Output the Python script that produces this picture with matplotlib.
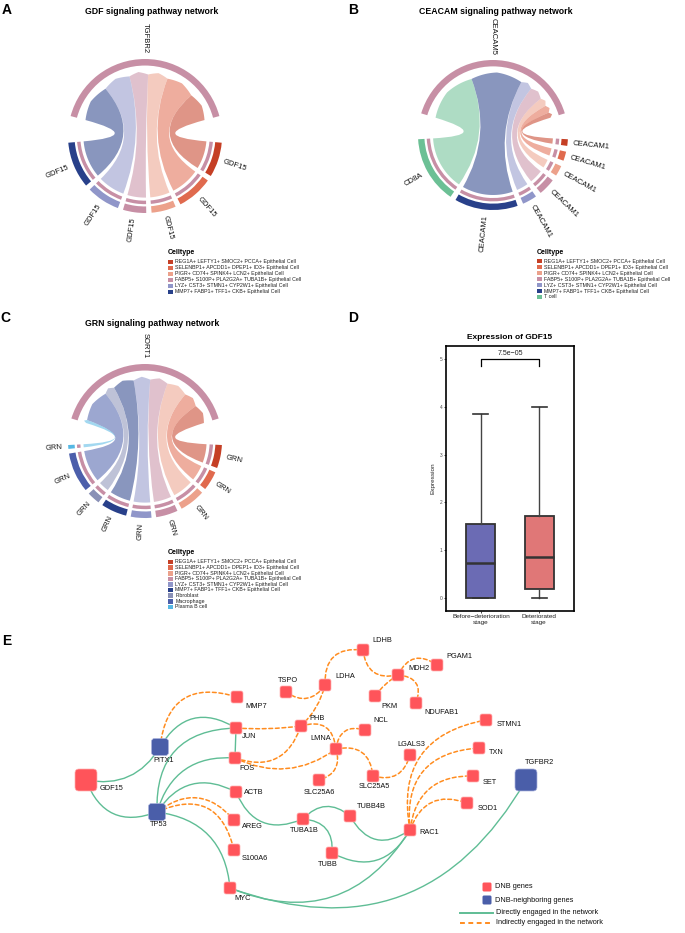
import numpy as np
import matplotlib
matplotlib.use("Agg")
import matplotlib.pyplot as plt
from matplotlib.patches import Wedge, PathPatch, FancyBboxPatch, FancyArrowPatch, Rectangle
from matplotlib.path import Path
from matplotlib.lines import Line2D

plt.rcParams['font.family'] = ['Liberation Sans', 'DejaVu Sans']

W, H = 685, 933

# ---------------- data ----------------
EPI = ['REG1A+ LEFTY1+ SMOC2+ PCCA+ Epithelial Cell',
       'SELENBP1+ APCDD1+ DPEP1+ ID3+ Epithelial Cell',
       'PIGR+ CD74+ SPINK4+ LCN2+ Epithelial Cell',
       'FABP5+ S100P+ PLA2G2A+ TUBA1B+ Epithelial Cell',
       'LYZ+ CST3+ STMN1+ CYP2W1+ Epithelial Cell',
       'MMP7+ FABP1+ TFF1+ CKB+ Epithelial Cell']
RECEIVER = EPI[3]

# A: GDF15 -> TGFBR2
gdf_senders = EPI
gdf_labels = ['GDF15'] * 6
gdf_strength = [27, 28, 19, 18, 26, 36]

# B: CEACAM1 / CD8A -> CEACAM5
cea_senders = EPI + ['T cell']
cea_labels = ['CEACAM1'] * 6 + ['CD8A']
cea_strength = [5, 7, 8, 13, 11, 48, 51]

# C: GRN -> SORT1
grn_senders = EPI + ['Fibroblast', 'Macrophage', 'Plasma B cell']
grn_labels = ['GRN'] * 9
grn_strength = [18, 15, 20, 17, 16, 20, 10, 31, 3]

# D: box statistics
box_groups = ['Before\u2212deterioration\nstage', 'Deteriorated\nstage']
box_whislo = [0.0, 0.0]
box_q1 = [0.0, 0.20]
box_med = [0.74, 0.865]
box_q3 = [1.55, 1.72]
box_whishi = [3.85, 4.0]
p_text = '7.5e\u221205'
p_y = 5.0

# E: network (layout coordinates)
node_names = ['GDF15', 'PITX1', 'TP53', 'MMP7', 'JUN', 'FOS', 'ACTB', 'AREG', 'S100A6', 'MYC',
              'TSPO', 'LDHA', 'PHB', 'LMNA', 'SLC25A6', 'TUBA1B', 'TUBB', 'LDHB', 'PGAM1', 'MDH2',
              'PKM', 'NDUFAB1', 'NCL', 'LGALS3', 'SLC25A5', 'STMN1', 'TXN', 'SET', 'SOD1',
              'TUBB4B', 'RAC1', 'TGFBR2']
node_x = [86, 160, 157, 237, 236, 235, 236, 234, 234, 230,
          286, 325, 301, 336, 319, 303, 332, 363, 437, 398,
          375, 416, 365, 410, 373, 486, 479, 473, 467,
          350, 410, 526]
node_y = [780, 747, 812, 697, 728, 758, 792, 820, 850, 888,
          692, 685, 726, 749, 780, 819, 853, 650, 665, 675,
          696, 703, 730, 755, 776, 720, 748, 776, 803,
          816, 830, 780]
neighbor_genes = ['PITX1', 'TP53', 'TGFBR2']

direct_edges = [('GDF15', 'PITX1'), ('GDF15', 'TP53'), ('PITX1', 'JUN'), ('TP53', 'JUN'),
                ('TP53', 'FOS'), ('JUN', 'FOS'), ('TP53', 'ACTB'), ('TP53', 'MYC'),
                ('ACTB', 'TUBA1B'), ('TUBA1B', 'TUBB4B'), ('TUBA1B', 'TUBB'), ('TUBB4B', 'RAC1'),
                ('TUBB', 'RAC1'), ('RAC1', 'MYC'), ('TGFBR2', 'MYC')]
indirect_edges = [('PITX1', 'MMP7'), ('TP53', 'AREG'), ('TP53', 'S100A6'), ('JUN', 'PHB'),
                  ('PHB', 'LDHA'), ('TSPO', 'LDHA'), ('LDHA', 'LDHB'), ('LDHB', 'MDH2'),
                  ('MDH2', 'PGAM1'), ('MDH2', 'PKM'), ('MDH2', 'NDUFAB1'), ('PHB', 'LMNA'),
                  ('FOS', 'PHB'), ('FOS', 'LMNA'), ('LMNA', 'NCL'), ('LMNA', 'SLC25A6'),
                  ('LMNA', 'SLC25A5'), ('SLC25A5', 'LGALS3'), ('RAC1', 'STMN1'), ('RAC1', 'TXN'),
                  ('RAC1', 'SET'), ('RAC1', 'SOD1')]

# ---------------- styles ----------------
cell_colors = {
    EPI[0]: '#c53f25', EPI[1]: '#e06a4e', EPI[2]: '#eca18b', EPI[3]: '#c78fa5',
    EPI[4]: '#9096c9', EPI[5]: '#28408a', 'T cell': '#6cc095', 'Fibroblast': '#8990b6',
    'Macrophage': '#4c5fab', 'Plasma B cell': '#56b8e4'}

direct_rad = [0.35, 0.5, -0.5, -0.5, -0.4, 0.0, -0.45, -0.4, 0.5, -0.47, -0.5, 0.55, 0.48, -0.42, -0.42]
indirect_rad = [-0.6, -0.47, -0.6, 0.05, 0.15, 0.5, -0.58, 0.55, -0.58, 0.1, -0.65, -0.6,
                0.5, 0.3, -0.58, -0.5, -0.55, 0.5, -0.5, -0.52, -0.45, -0.5]
node_size = {'GDF15': 22, 'TGFBR2': 22, 'PITX1': 17, 'TP53': 17}
label_pos = {'GDF15': (14, 8, 'left'), 'PITX1': (4, 14, 'center'), 'TP53': (2, 13, 'center'),
             'MMP7': (8, 10, 'left'), 'JUN': (6, 8, 'left'), 'FOS': (4, 10, 'left'),
             'ACTB': (8, 1, 'left'), 'AREG': (8, 7, 'left'), 'S100A6': (8, 9, 'left'),
             'MYC': (4, 11, 'left'), 'TSPO': (2, -12, 'center'), 'LDHA': (10, -8, 'left'),
             'PHB': (8, -8, 'left'), 'LMNA': (-5, -10, 'right'), 'SLC25A6': (0, 12, 'center'),
             'TUBA1B': (1, 11, 'center'), 'TUBB': (-4, 12, 'center'), 'LDHB': (9, -10, 'left'),
             'PGAM1': (9, -9, 'left'), 'MDH2': (10, -6, 'left'), 'PKM': (6, 10, 'left'),
             'NDUFAB1': (8, 10, 'left'), 'NCL': (8, -9, 'left'), 'LGALS3': (1, -11, 'center'),
             'SLC25A5': (1, 11, 'center'), 'STMN1': (11, 4, 'left'), 'TXN': (10, 4, 'left'),
             'SET': (10, 6, 'left'), 'SOD1': (11, 6, 'left'), 'TUBB4B': (7, -9, 'left'),
             'RAC1': (9, 3, 'left'), 'TGFBR2': (13, -18, 'center')}
RED, BLUE = '#ff545a', '#4a5ea9'
GREEN, ORANGE = '#5fbd95', '#ff8c1f'

fig = plt.figure(figsize=(W / 100, H / 100), dpi=100)
ov = fig.add_axes([0, 0, 1, 1])
ov.set_xlim(0, W)
ov.set_ylim(H, 0)
ov.axis('off')


def pt(r, a):
    t = np.radians(a)
    return [r * np.cos(t), r * np.sin(t)]


def ribbon(ax, a1, a2, b1, b2, color, rs=0.80, rt=0.835, h=0.035):
    verts, codes = [], []
    for k, a in enumerate(np.linspace(a1, a2, 40)):
        verts.append(pt(rs, a))
        codes.append(Path.MOVETO if k == 0 else Path.LINETO)
    verts += [[0, 0], pt(rt - h, b1)]
    codes += [Path.CURVE3, Path.CURVE3]
    bb = np.linspace(b1, b2, 41)
    rr = rt - h * np.abs(np.linspace(-1, 1, 41))
    for a, r in zip(bb[1:], rr[1:]):
        verts.append(pt(r, a))
        codes.append(Path.LINETO)
    verts += [[0, 0], pt(rs, a1), pt(rs, a1)]
    codes += [Path.CURVE3, Path.CURVE3, Path.CLOSEPOLY]
    ax.add_patch(PathPatch(Path(verts, codes), fc=color, ec='none', alpha=0.55, zorder=1))


def sector_label(ax, ang, text):
    x, y = pt(1.07, ang)
    if np.cos(np.radians(ang)) > 1e-6:
        rot, ha = ang, 'left'
    else:
        rot, ha = ang + 180, 'right'
    ax.text(x, y, text, rotation=rot, rotation_mode='anchor', ha=ha, va='center',
            fontsize=5.5, color='#111')


def chord(cx, cy, rad, senders, labels, strength, target, target_label, small_gap, big_gap=20):
    L = 1.6
    S = 2 * L * rad
    ax = fig.add_axes([(cx - S / 2) / W, 1 - (cy + S / 2) / H, S / W, S / H])
    ax.set_xlim(-L, L)
    ax.set_ylim(-L, L)
    ax.axis('off')
    v = np.asarray(strength, float)
    n = len(v)
    scale = (360 - 2 * big_gap - (n - 1) * small_gap) / 2 / v.sum()
    w = v * scale
    half = v.sum() * scale
    t_lo, t_hi = 90 - half / 2, 90 + half / 2
    ax.add_patch(Wedge((0, 0), 1.0, t_lo, t_hi, width=0.085, fc=cell_colors[target], ec='none'))
    sector_label(ax, 90, target_label)
    start = t_lo - big_gap
    tpos = t_lo
    for i in range(n):
        a2, a1 = start, start - w[i]
        col = cell_colors[senders[i]]
        ax.add_patch(Wedge((0, 0), 1.0, a1, a2, width=0.085, fc=col, ec='none'))
        ax.add_patch(Wedge((0, 0), 0.885, a1, a2, width=0.045, fc=cell_colors[target], ec='none'))
        ribbon(ax, a1, a2, tpos, tpos + w[i], col)
        tpos += w[i]
        sector_label(ax, (a1 + a2) / 2, labels[i])
        start = a1 - small_gap


def cell_legend(x, y, cells, dy=6.0):
    ov.text(x, y, 'Celltype', fontsize=5, fontweight='bold', ha='left', va='center')
    for i, c in enumerate(cells):
        yy = y + 9 + i * dy
        ov.add_patch(Rectangle((x, yy - 2.3), 4.6, 4.6, fc=cell_colors[c], ec='none'))
        ov.text(x + 7.5, yy, c, fontsize=3.8, va='center', ha='left', color='#222')


# panel labels and titles
for lab, x, y in [('A', 2, 10), ('B', 348, 10), ('C', 0, 318), ('D', 348, 318), ('E', 2, 641)]:
    ov.text(x, y, lab, fontsize=10, fontweight='bold', ha='left', va='center')
ov.text(152, 11, 'GDF signaling pathway network', fontsize=6.3, fontweight='bold', ha='center', va='center')
ov.text(496, 11, 'CEACAM signaling pathway network', fontsize=6.3, fontweight='bold', ha='center', va='center')
ov.text(152, 323, 'GRN signaling pathway network', fontsize=6.3, fontweight='bold', ha='center', va='center')

chord(145, 136, 77, gdf_senders, gdf_labels, gdf_strength, RECEIVER, 'TGFBR2', 4)
chord(493, 135, 75, cea_senders, cea_labels, cea_strength, RECEIVER, 'CEACAM5', 4.5)
chord(145, 441, 77, grn_senders, grn_labels, grn_strength, RECEIVER, 'SORT1', 3.5)

cell_legend(168, 253, gdf_senders)
cell_legend(537, 252, cea_senders)
cell_legend(168, 553, grn_senders, dy=5.6)

# ---------------- D: box plot ----------------
axd = fig.add_axes([446 / W, 1 - 611 / H, 128 / W, 265 / H])
stats = [dict(whislo=box_whislo[i], q1=box_q1[i], med=box_med[i], q3=box_q3[i],
              whishi=box_whishi[i], label=box_groups[i]) for i in range(2)]
bp = axd.bxp(stats, positions=[1, 2], widths=0.5, patch_artist=True, showfliers=False,
             boxprops=dict(lw=1.3, edgecolor='#333333'),
             medianprops=dict(color='#333333', lw=1.8),
             whiskerprops=dict(color='#444444', lw=1.0),
             capprops=dict(color='#333333', lw=1.2), capwidths=0.26)
for patch, c in zip(bp['boxes'], ['#6b6bb4', '#e07777']):
    patch.set_facecolor(c)
axd.plot([1, 1, 2, 2], [p_y - 0.15, p_y, p_y, p_y - 0.15], color='black', lw=0.9)
axd.text(1.5, p_y + 0.04, p_text, ha='center', va='bottom', fontsize=5, color='#222')
axd.set_xlim(0.4, 2.6)
axd.set_ylim(-0.27, 5.27)
axd.set_yticks([0, 1, 2, 3, 4, 5])
axd.tick_params(axis='y', labelsize=3.5, labelcolor='#4d4d4d', length=1.5, width=0.5, pad=1)
axd.tick_params(axis='x', labelsize=4.6, labelcolor='#222', length=1.5, width=0.5, pad=1)
axd.set_ylabel('Expression', fontsize=4.6, color='#222', labelpad=3)
axd.set_title('Expression of GDF15', fontsize=6, fontweight='bold', pad=5)
for s in axd.spines.values():
    s.set_linewidth(1.2)
    s.set_color('black')

# ---------------- E: network ----------------
pos = {nm: (x, y) for nm, x, y in zip(node_names, node_x, node_y)}
for (a, b), r in zip(direct_edges, direct_rad):
    ov.add_patch(FancyArrowPatch(pos[a], pos[b], connectionstyle=f'arc3,rad={r}', arrowstyle='-',
                                 color=GREEN, lw=1.0, shrinkA=0, shrinkB=0, zorder=2))
for (a, b), r in zip(indirect_edges, indirect_rad):
    e = FancyArrowPatch(pos[a], pos[b], connectionstyle=f'arc3,rad={r}', arrowstyle='-',
                        color=ORANGE, lw=1.1, shrinkA=0, shrinkB=0, zorder=2)
    e.set_linestyle((0, (2.5, 1.8)))
    ov.add_patch(e)
for nm in node_names:
    x, y = pos[nm]
    s = node_size.get(nm, 12)
    fc = BLUE if nm in neighbor_genes else RED
    ec = '#aab3dd' if nm in neighbor_genes else '#ffb0b0'
    ov.add_patch(FancyBboxPatch((x - s / 2, y - s / 2), s, s,
                                boxstyle=f'round,pad=0,rounding_size={s * 0.18}',
                                fc=fc, ec=ec, lw=0.5, zorder=3))
    dx, dy, ha = label_pos[nm]
    ov.text(x + dx, y + dy, nm, fontsize=5.3, ha=ha, va='center', color='#111', zorder=4)

# network legend
for yy, fc, txt in [(887, RED, 'DNB genes'), (900, BLUE, 'DNB-neighboring genes')]:
    ov.add_patch(FancyBboxPatch((482.5, yy - 4.5), 9, 9, boxstyle='round,pad=0,rounding_size=1.5',
                                fc=fc, ec='none', zorder=3))
    ov.text(495, yy, txt, fontsize=5.3, ha='left', va='center', color='#111')
ov.add_line(Line2D([460, 493], [913, 913], color=GREEN, lw=1.4))
ov.add_line(Line2D([460, 493], [923, 923], color=ORANGE, lw=1.4, linestyle=(0, (2.5, 1.8))))
ov.text(496, 913, 'Directly engaged in the network', fontsize=5.3, ha='left', va='center', color='#111')
ov.text(496, 923, 'Indirectly engaged in the network', fontsize=5.3, ha='left', va='center', color='#111')

fig.savefig('out.png', dpi=100)
